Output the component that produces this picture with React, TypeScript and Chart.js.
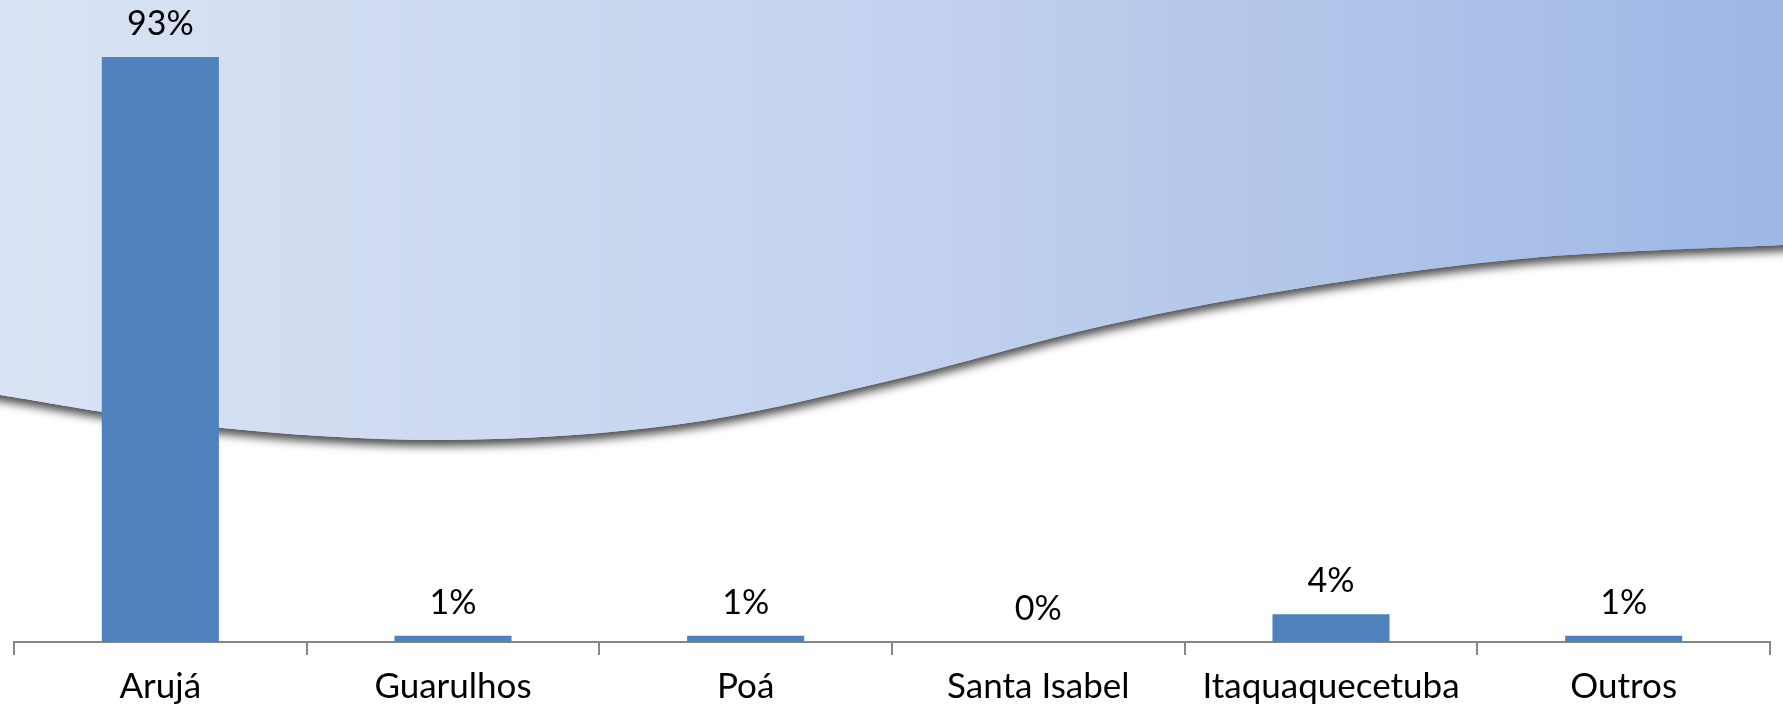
import React, { useEffect, useRef } from "react";
import { Chart, registerables } from "chart.js";

Chart.register(...registerables);

const categories = ["Arujá", "Guarulhos", "Poá", "Santa Isabel", "Itaquaquecetuba", "Outros"];
const shares = [93, 1, 1, 0, 4.4, 1];

const W = 1783;
const H = 704;
const FONT = "Lato";

// Decorative wave (fractions of canvas size)
const waveX = [0, 0.12, 0.25, 0.38, 0.5, 0.62, 0.74, 0.86, 1];
const waveY = [0.561, 0.607, 0.625, 0.603, 0.54, 0.462, 0.405, 0.366, 0.348];

const backgroundPlugin = {
  id: "waveBackground",
  beforeDraw(chart: any) {
    const ctx = chart.ctx as CanvasRenderingContext2D;
    const w = chart.width;
    const h = chart.height;
    ctx.save();
    ctx.fillStyle = "#ffffff";
    ctx.fillRect(0, 0, w, h);
    const pts = waveX.map((fx, i) => ({ x: fx * w, y: waveY[i] * h }));
    const grad = ctx.createLinearGradient(0, 0, w, 0);
    grad.addColorStop(0, "#DAE3F4");
    grad.addColorStop(0.5, "#C3D2EE");
    grad.addColorStop(1, "#9EB7E5");
    ctx.beginPath();
    ctx.moveTo(-20, -20);
    ctx.lineTo(-20, pts[0].y - 4);
    ctx.lineTo(pts[0].x, pts[0].y);
    for (let i = 0; i < pts.length - 1; i++) {
      const p0 = pts[Math.max(0, i - 1)];
      const p1 = pts[i];
      const p2 = pts[i + 1];
      const p3 = pts[Math.min(pts.length - 1, i + 2)];
      const c1x = p1.x + (p2.x - p0.x) / 6;
      const c1y = p1.y + (p2.y - p0.y) / 6;
      const c2x = p2.x - (p3.x - p1.x) / 6;
      const c2y = p2.y - (p3.y - p1.y) / 6;
      ctx.bezierCurveTo(c1x, c1y, c2x, c2y, p2.x, p2.y);
    }
    ctx.lineTo(w + 20, pts[pts.length - 1].y);
    ctx.lineTo(w + 20, -20);
    ctx.closePath();
    ctx.shadowColor = "rgba(0,0,0,0.7)";
    ctx.shadowBlur = 10;
    ctx.shadowOffsetY = 6;
    ctx.fillStyle = grad;
    ctx.fill();
    ctx.shadowColor = "transparent";
    ctx.fill();
    ctx.restore();
  },
};

const labelPlugin = {
  id: "barLabels",
  afterDatasetsDraw(chart: any) {
    const ctx = chart.ctx as CanvasRenderingContext2D;
    const meta = chart.getDatasetMeta(0);
    ctx.save();
    ctx.font = `34px ${FONT}`;
    ctx.fillStyle = "#000000";
    ctx.textAlign = "center";
    ctx.textBaseline = "alphabetic";
    meta.data.forEach((bar: any, i: number) => {
      ctx.fillText(`${Math.round(shares[i])}%`, bar.x, bar.y - 22);
    });
    ctx.restore();
  },
};

export default function App() {
  const ref = useRef<HTMLCanvasElement>(null);
  useEffect(() => {
    document.body.style.margin = "0";
    const canvas = ref.current!;
    const chart = new Chart(canvas, {
      type: "bar",
      data: {
        labels: categories,
        datasets: [
          {
            data: shares,
            backgroundColor: "#4F81BD",
            borderWidth: 0,
            barPercentage: 0.4,
            categoryPercentage: 1,
          },
        ],
      },
      options: {
        responsive: false,
        animation: false,
        layout: { padding: { left: 14, right: 13, top: 13, bottom: 0 } },
        plugins: { legend: { display: false }, tooltip: { enabled: false } },
        scales: {
          y: { display: false, min: 0, max: 100 },
          x: {
            afterFit(scale: any) {
              scale.height = 62;
            },
            border: { display: true, color: "#868686", width: 2 },
            grid: {
              display: true,
              drawOnChartArea: false,
              drawTicks: true,
              tickLength: 13,
              color: "#868686",
              lineWidth: 2,
              offset: true,
            },
            ticks: {
              color: "#000000",
              font: { family: FONT, size: 35 },
              padding: 11,
              maxRotation: 0,
              autoSkip: false,
            },
          },
        },
      },
      plugins: [backgroundPlugin, labelPlugin],
    });
    return () => chart.destroy();
  }, []);
  return <canvas ref={ref} width={W} height={H} style={{ display: "block", width: W, height: H }} />;
}
